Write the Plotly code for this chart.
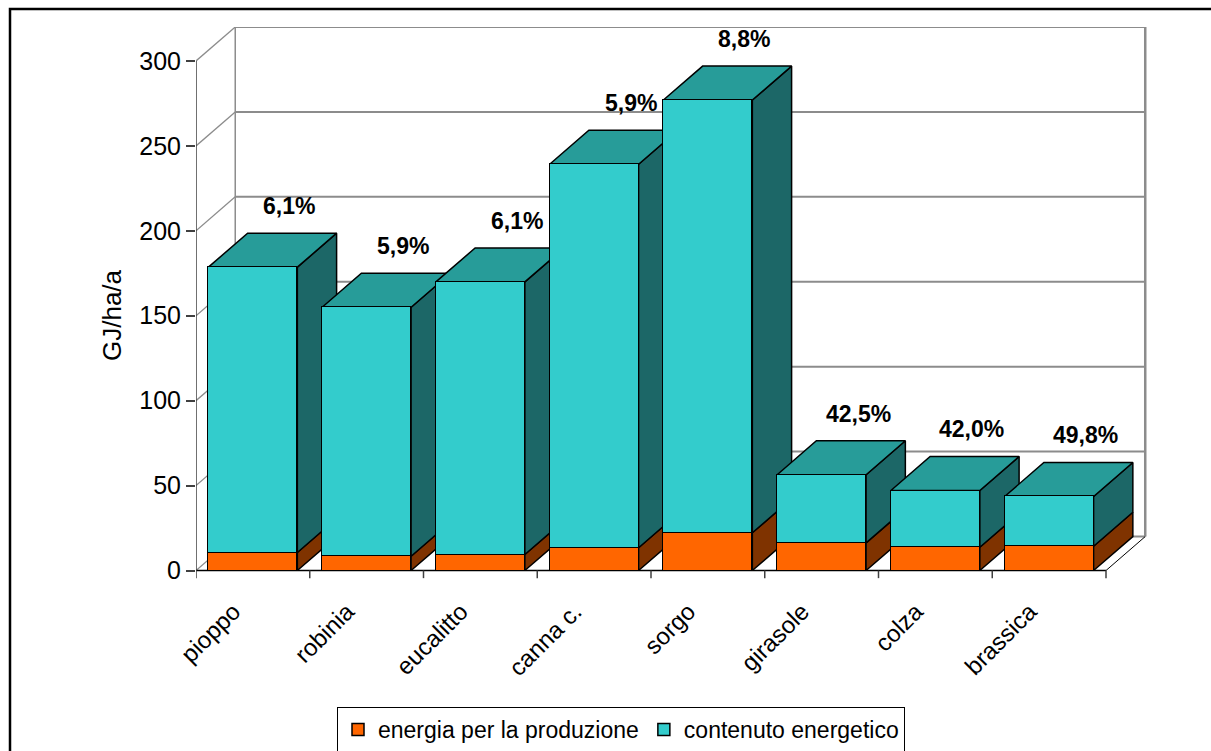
import plotly.graph_objects as go

# ---------------- data ----------------
categorie = ["pioppo", "robinia", "eucalitto", "canna c.", "sorgo", "girasole", "colza", "brassica"]
energia_produzione = [10.6, 8.4, 9.4, 13.4, 22.2, 16.3, 13.7, 14.3]
contenuto_energetico = [168.0, 146.6, 160.5, 225.8, 254.8, 40.1, 33.4, 29.3]
percentuali = ["6,1%", "5,9%", "6,1%", "5,9%", "8,8%", "42,5%", "42,0%", "49,8%"]
y_ticks = [0, 50, 100, 150, 200, 250, 300]
serie_nomi = ["energia per la produzione", "contenuto energetico"]

# ---------------- style / geometry ----------------
FONT = "Liberation Sans, Arial, sans-serif"
C_FRONT = ["#FF6600", "#33CCCC"]
C_SIDE = ["#7F3300", "#1C6767"]
C_TOP = "#279C99"
GRID = "#8C8C8C"
AX = "#404040"
HW = 0.391     # half width of bar front face (category units)
DX = 0.345     # depth shift in x (category units)
DY = 20.0      # depth shift in y (value units)
LABEL_SHIFT = 0.17  # category label offset to the left

n = len(categorie)
idx = list(range(n))
totali = [a + b for a, b in zip(energia_produzione, contenuto_energetico)]

W_PLOT = 954
PX_PER_CAT = 113.75
X0 = -0.5
X1 = X0 + W_PLOT / PX_PER_CAT
Y0, Y1 = -5, 320
ML, MT, MB = 196, 27, 172
H_PLOT = 751 - MT - MB

fig = go.Figure()


def seg_trace(xs, ys, color, width):
    fig.add_trace(go.Scatter(x=xs, y=ys, mode="lines", line=dict(color=color, width=width),
                             hoverinfo="skip", showlegend=False))


# back wall gridlines (incl. floor back edge and top edge)
xs, ys = [], []
for v in y_ticks:
    xs += [X0 + DX, n - 0.5 + DX, None]
    ys += [v + DY, v + DY, None]
seg_trace(xs, ys, GRID, 2)
# left wall diagonals
xs, ys = [], []
for v in y_ticks:
    xs += [X0, X0 + DX, None]
    ys += [v, v + DY, None]
seg_trace(xs, ys, GRID, 1.3)
# back wall verticals
seg_trace([X0 + DX, X0 + DX], [DY, y_ticks[-1] + DY], GRID, 1.5)
seg_trace([n - 0.5 + DX, n - 0.5 + DX], [DY, y_ticks[-1] + DY], GRID, 2.5)
# floor front edge and right diagonal
seg_trace([X0, n - 0.5], [0, 0], "#000000", 1.5)
seg_trace([n - 0.5, n - 0.5 + DX], [0, DY], "#000000", 1)
# front y axis line
seg_trace([X0, X0], [-4.5, y_ticks[-1]], AX, 1.5)
# category boundary tick marks
xs, ys = [], []
for k in range(1, n + 1):
    xs += [k - 0.5, k - 0.5, None]
    ys += [0, -4.5, None]
seg_trace(xs, ys, AX, 1.5)

# 3D side and top faces
for i in idx:
    segs = [(0, energia_produzione[i]), (energia_produzione[i], totali[i])]
    for s, (b0, b1) in enumerate(segs):
        fig.add_trace(go.Scatter(
            x=[i + HW, i + HW + DX, i + HW + DX, i + HW, i + HW],
            y=[b0, b0 + DY, b1 + DY, b1, b0],
            mode="lines", fill="toself", fillcolor=C_SIDE[s],
            line=dict(color="#000000", width=1.5), hoverinfo="skip", showlegend=False))
    t = totali[i]
    fig.add_trace(go.Scatter(
        x=[i - HW, i - HW + DX, i + HW + DX, i + HW, i - HW],
        y=[t, t + DY, t + DY, t, t],
        mode="lines", fill="toself", fillcolor=C_TOP,
        line=dict(color="#000000", width=1.5), hoverinfo="skip", showlegend=False))

# front faces as stacked bars on an overlaid subplot (drawn above the sides)
for s, vals in enumerate([energia_produzione, contenuto_energetico]):
    fig.add_trace(go.Bar(
        x=idx, y=vals, name=serie_nomi[s], width=2 * HW,
        marker=dict(color=C_FRONT[s], line=dict(color="#000000", width=1.5)),
        xaxis="x2", yaxis="y2"))

# percentage labels
for i in idx:
    fig.add_annotation(x=i + 0.32, y=totali[i] + 36, xref="x", yref="y",
                       text="<b>" + percentuali[i] + "</b>", showarrow=False,
                       font=dict(family=FONT, size=23, color="#000000"))

# y axis title
fig.add_annotation(x=(112 - ML) / W_PLOT, y=(751 - MB - 315) / H_PLOT, xref="paper", yref="paper",
                   xanchor="center", yanchor="middle",
                   text="GJ/ha/a", textangle=-90, showarrow=False,
                   font=dict(family=FONT, size=26, color="#000000"))

# outer frame
fig.add_shape(type="rect", xref="paper", yref="paper",
              x0=(10 - ML) / W_PLOT, x1=(1225 - ML) / W_PLOT,
              y0=(751 - MB - 9) / H_PLOT, y1=(751 - MB - 770) / H_PLOT,
              line=dict(color="#000000", width=2.5), fillcolor="rgba(0,0,0,0)")

axis_common = dict(showgrid=False, zeroline=False, showline=False)
fig.update_layout(
    width=1211, height=751,
    margin=dict(l=ML, r=1211 - ML - W_PLOT, t=MT, b=MB, pad=0, autoexpand=False),
    paper_bgcolor="#FFFFFF", plot_bgcolor="#FFFFFF",
    barmode="stack", bargap=0,
    font=dict(family=FONT, color="#000000"),
    xaxis=dict(range=[X0, X1], tickmode="array", tickvals=[i - LABEL_SHIFT for i in idx],
               ticktext=categorie, tickangle=-45, ticks="outside", ticklen=8,
               tickcolor="rgba(0,0,0,0)", tickfont=dict(family=FONT, size=24), **axis_common),
    yaxis=dict(range=[Y0, Y1], tickmode="array", tickvals=y_ticks, ticks="outside",
               ticklen=9, tickwidth=1.5, tickcolor=AX,
               tickfont=dict(family=FONT, size=25), **axis_common),
    xaxis2=dict(range=[X0, X1], overlaying="x", visible=False, **axis_common),
    yaxis2=dict(range=[Y0, Y1], overlaying="y", visible=False, **axis_common),
    legend=dict(orientation="h", x=(621 - ML) / W_PLOT, xanchor="center",
                y=(751 - MB - 707) / H_PLOT, yanchor="top",
                bordercolor="#000000", borderwidth=1, bgcolor="#FFFFFF",
                font=dict(family=FONT, size=23), traceorder="normal"),
    showlegend=True,
)

fig.write_html("out.html")
